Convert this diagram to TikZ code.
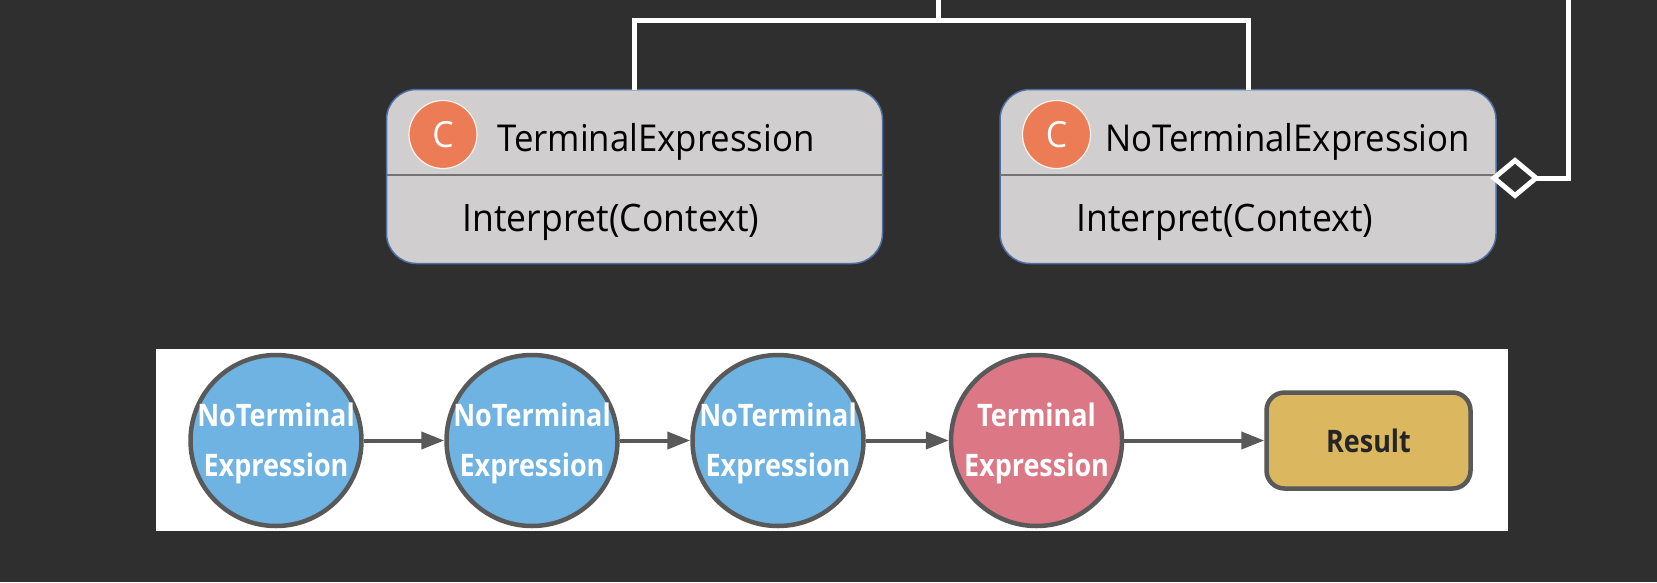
\documentclass[tikz,border=0pt]{standalone}
\usepackage{fontspec}
\setmainfont{Open Sans}
\newfontfamily\regf[FakeStretch=0.94]{Open Sans}
\newfontfamily\boldf[FakeStretch=0.87]{Open Sans Bold}
\usetikzlibrary{arrows.meta,shapes.geometric,calc}
\definecolor{bgc}{HTML}{2F2F2F}
\definecolor{boxc}{HTML}{D0CECE}
\definecolor{edgec}{HTML}{4F6EA5}
\definecolor{orangec}{HTML}{EC7C56}
\definecolor{bluec}{HTML}{6FB3E2}
\definecolor{pinkc}{HTML}{DC7885}
\definecolor{goldc}{HTML}{DBB85F}
\definecolor{greyc}{HTML}{595959}
\tikzset{
  x=1pt,y=-1pt,
  classbox/.style={draw=edgec,line width=1.5pt,fill=boxc,rounded corners=30pt,minimum width=496pt,minimum height=174pt,inner sep=0pt,outer sep=0pt},
  badge/.style={circle,draw=white!90!orangec,line width=1.2pt,fill=orangec,minimum size=68pt,inner sep=0pt,text=white,font={\regf\fontsize{36}{36}\selectfont}},
  classtext/.style={anchor=base west,inner sep=0pt,text=black,font={\regf\fontsize{37}{37}\selectfont}},
  methodtext/.style={anchor=base west,inner sep=0pt,text=black,font={\regf\fontsize{37.8}{38}\selectfont}},
  divider/.style={draw=gray!90!black,line width=1.2pt},
  wire/.style={draw=white,line width=5pt},
  aggr/.style={diamond,draw=white,line width=5pt,fill=bgc,minimum width=42pt,minimum height=35pt,inner sep=0pt,outer sep=0pt},
  stage/.style={circle,draw=greyc,line width=4.5pt,minimum size=171pt,inner sep=0pt},
  stagetext/.style={align=center,inner sep=0pt,text=white,font={\boldf\fontsize{31}{50}\selectfont}},
  flow/.style={draw=greyc,line width=4pt,-{Triangle[length=23pt,width=17pt]},shorten >=0pt},
  resbox/.style={draw=greyc,line width=4.5pt,fill=goldc,rounded corners=18pt,minimum width=204pt,minimum height=96pt,inner sep=0pt,text=bgc!80!black,font={\boldf\fontsize{31}{31}\selectfont}}
}
\begin{document}
\begin{tikzpicture}
\useasboundingbox (0,0) rectangle (1657,582);
\fill[bgc] (0,0) rectangle (1657,582);
% classes
\node[classbox] (t) at (634.5,176.5) {};
\node[classbox] (n) at (1248,176.5) {};
\draw[divider] (t.west |- 0,175) coordinate (ta) -- (t.east |- 0,175) coordinate (tb);
\draw[divider] (n.west |- 0,175) coordinate (na) -- (n.east |- 0,175) coordinate (nb);
\node[badge] (tc) at (443,134.5) {C};
\node[badge] (nc) at (1056.5,134.5) {C};
\node[classtext] (tn) at (497,151) {TerminalExpression};
\node[classtext] (nn) at (1105,151) {NoTerminalExpression};
\node[methodtext] (tm) at (462.5,231) {Interpret(Context)};
\node[methodtext] (nm) at (1076.5,231) {Interpret(Context)};
% inheritance wires
\coordinate (join) at (938.5,20);
\coordinate (top) at (938.5,0);
\coordinate (rtop) at (1568,0);
\draw[wire] (t.north) |- (join) -| (n.north);
\draw[wire] (top) -- (join);
% aggregation
\node[aggr] (d) at (1515,178) {};
\draw[wire] (d.east) -| (rtop);
% panel
\fill[white] (155.5,349) rectangle (1508,531);
\node[stage,fill=bluec] (c1) at (276,440.5) {};
\node[stage,fill=bluec] (c2) at (532,440.5) {};
\node[stage,fill=bluec] (c3) at (778,440.5) {};
\node[stage,fill=pinkc] (c4) at (1036.5,440.5) {};
\node[resbox] (r) at (1368.5,440.5) {Result};
\node[stagetext] (l1) at ([yshift=-2.5pt]c1.center) {NoTerminal\\Expression};
\node[stagetext] (l2) at ([yshift=-2.5pt]c2.center) {NoTerminal\\Expression};
\node[stagetext] (l3) at ([yshift=-2.5pt]c3.center) {NoTerminal\\Expression};
\node[stagetext] (l4) at ([yshift=-2.5pt]c4.center) {Terminal\\Expression};
\draw[flow] (c1) -- (c2);
\draw[flow] (c2) -- (c3);
\draw[flow] (c3) -- (c4);
\draw[flow] (c4) -- (r);
\end{tikzpicture}
\end{document}
